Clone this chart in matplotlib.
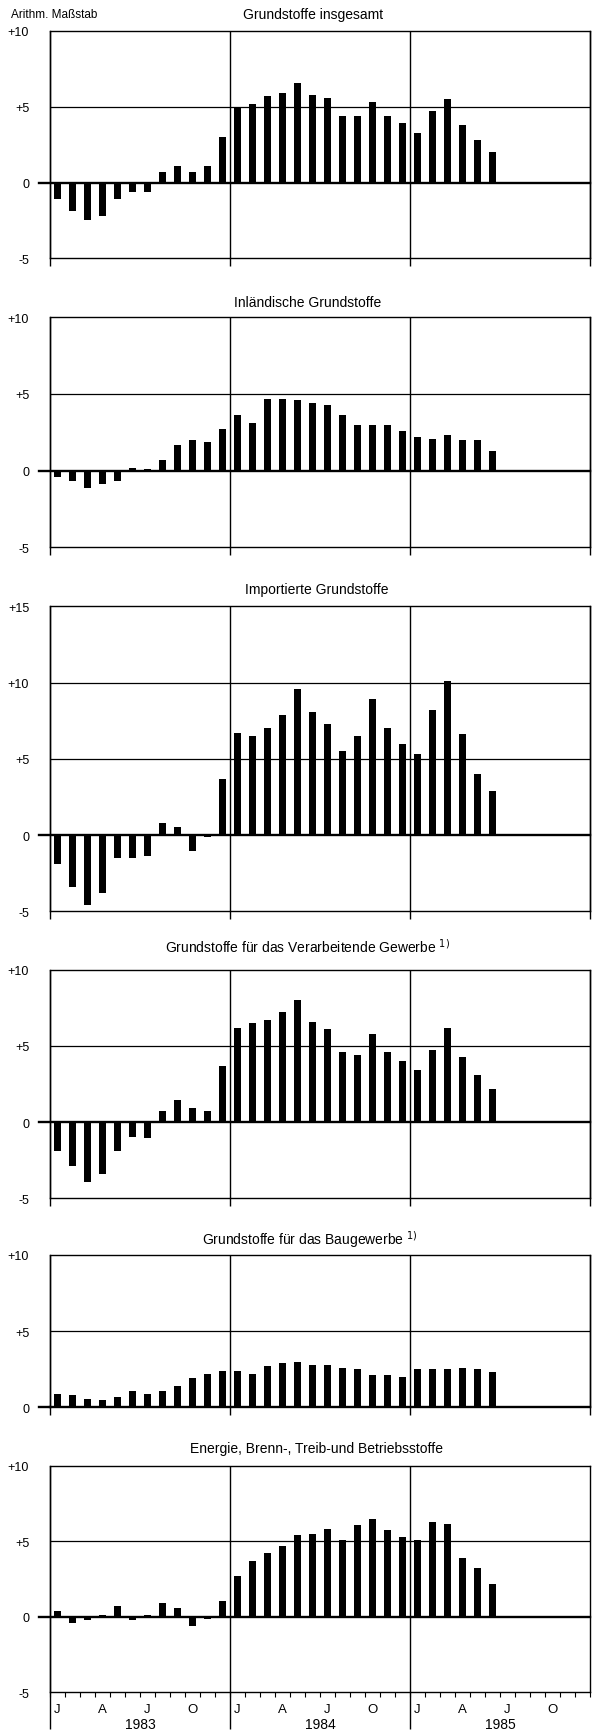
import matplotlib
matplotlib.use("Agg")
import matplotlib.pyplot as plt
from matplotlib import font_manager

names = {f.name for f in font_manager.fontManager.ttflist}
fam = [n for n in ["Liberation Sans Narrow", "Liberation Sans", "DejaVu Sans"] if n in names]
plt.rcParams["font.family"] = fam + ["DejaVu Sans"]

# ---------------- data ----------------
months_1983_1985 = list(range(30))  # Jan 1983 .. Jun 1985
month_labels = ["J", "A", "J", "O"]
month_label_pos = [0, 3, 6, 9]
years = ["1983", "1984", "1985"]

titles = [
    "Grundstoffe insgesamt",
    "Inländische Grundstoffe",
    "Importierte Grundstoffe",
    "Grundstoffe für das Verarbeitende Gewerbe",
    "Grundstoffe für das Baugewerbe",
    "Energie, Brenn-, Treib-und Betriebsstoffe",
]
footnotes = [False, False, False, True, True, False]

insgesamt = [-1.1, -1.9, -2.5, -2.2, -1.1, -0.6, -0.6, 0.7, 1.1, 0.7, 1.1, 3.0,
             4.9, 5.2, 5.7, 5.9, 6.6, 5.8, 5.6, 4.4, 4.4, 5.3, 4.4, 3.9,
             3.3, 4.7, 5.5, 3.8, 2.8, 2.0]
inlaendisch = [-0.4, -0.7, -1.1, -0.9, -0.7, 0.15, 0.1, 0.7, 1.7, 2.0, 1.9, 2.7,
               3.6, 3.1, 4.7, 4.7, 4.6, 4.4, 4.3, 3.6, 3.0, 3.0, 3.0, 2.6,
               2.2, 2.05, 2.3, 2.0, 2.0, 1.3]
importiert = [-1.9, -3.4, -4.6, -3.8, -1.5, -1.5, -1.4, 0.8, 0.55, -1.05, -0.1, 3.7,
              6.7, 6.5, 7.0, 7.9, 9.6, 8.1, 7.3, 5.5, 6.5, 8.9, 7.0, 6.0,
              5.3, 8.2, 10.1, 6.6, 4.0, 2.9]
verarbeitend = [-1.9, -2.9, -3.9, -3.4, -1.9, -1.0, -1.05, 0.7, 1.45, 0.95, 0.7, 3.7,
                6.2, 6.5, 6.7, 7.2, 8.0, 6.6, 6.1, 4.6, 4.4, 5.8, 4.6, 4.0,
                3.4, 4.7, 6.2, 4.3, 3.1, 2.2]
baugewerbe = [0.9, 0.8, 0.55, 0.45, 0.7, 1.1, 0.9, 1.1, 1.4, 1.9, 2.2, 2.4,
              2.4, 2.2, 2.7, 2.9, 3.0, 2.8, 2.8, 2.6, 2.5, 2.1, 2.1, 2.0,
              2.5, 2.5, 2.5, 2.6, 2.5, 2.3]
energie = [0.4, -0.4, -0.2, 0.1, 0.7, -0.2, 0.1, 0.9, 0.55, -0.6, -0.15, 1.05,
           2.7, 3.7, 4.2, 4.7, 5.4, 5.5, 5.8, 5.05, 6.05, 6.45, 5.75, 5.3,
           5.05, 6.3, 6.15, 3.9, 3.2, 2.2]
series = [insgesamt, inlaendisch, importiert, verarbeitend, baugewerbe, energie]

ylims = [(-5, 10), (-5, 10), (-5, 15), (-5, 10), (0, 10), (-5, 10)]
ytick_sets = [[-5, 0, 5, 10], [-5, 0, 5, 10], [-5, 0, 5, 10, 15],
              [-5, 0, 5, 10], [0, 5, 10], [-5, 0, 5, 10]]

# ---------------- layout (pixels) ----------------
W, H = 592, 1731
L, R = 50, 590
tops = [32, 318.3, 607.3, 970.7, 1256, 1466.7]
bottoms = [259.3, 548.3, 912.3, 1199.3, 1408.3, 1693.3]
title_y = [15, 303, 590, 946.7, 1240, 1449.3]
title_x = [313, 307.5, 316.5, 308, 310, 316.6]

fig = plt.figure(figsize=(W / 100, H / 100), dpi=100)

def fmt(v):
    if v > 0:
        return "+%d" % v
    return "%d" % v

for i in range(6):
    top, bot = tops[i], bottoms[i]
    ah = bot - top
    ax = fig.add_axes([L / W, 1 - bot / H, (R - L) / W, ah / H])
    ax.set_xlim(0, 36)
    ax.set_ylim(*ylims[i])
    x = [m + 0.5 for m in months_1983_1985]
    ax.bar(x, series[i], width=0.44, color="black", zorder=3)
    for s in ax.spines.values():
        s.set_linewidth(1.0)
    lo, hi = ylims[i]
    for g in ytick_sets[i]:
        if lo < g < hi and g != 0:
            ax.axhline(g, color="black", lw=0.9, zorder=1)
    if lo < 0:
        ax.axhline(0, xmin=-11 / (R - L), xmax=1, color="black", lw=1.7,
                   zorder=4, clip_on=False)
    else:
        ax.spines["bottom"].set_linewidth(1.7)
        ax.axhline(0, xmin=-11 / (R - L), xmax=0, color="black", lw=1.7,
                   clip_on=False)
    ext = (8 if i < 5 else (H - bot - 1)) / ah
    ax.vlines([0, 12, 24], -ext, 1, transform=ax.get_xaxis_transform(),
              colors="black", lw=1.0, clip_on=False, zorder=2)
    if i < 5:
        ax.vlines([36], -ext, 1, transform=ax.get_xaxis_transform(),
                  colors="black", lw=1.0, clip_on=False, zorder=2)
    ax.set_yticks(ytick_sets[i])
    ax.set_yticklabels([fmt(t) for t in ytick_sets[i]], fontsize=9)
    ax.tick_params(axis="y", length=0, pad=15)
    if i < 5:
        ax.set_xticks([])
    else:
        ax.set_xticks(range(37))
        ax.set_xticklabels([])
        ax.tick_params(axis="x", direction="out", length=3.8, width=0.8)
        for yr in range(3):
            for lab, pos in zip(month_labels, month_label_pos):
                ax.text(yr * 12 + pos + 0.5, -17 / ah, lab, fontsize=9.5,
                        ha="center", va="center",
                        transform=ax.get_xaxis_transform())
            ax.text(yr * 12 + 6, -32 / ah, years[yr], fontsize=10,
                    ha="center", va="center",
                    transform=ax.get_xaxis_transform())
    t = titles[i] + (r" $^{1)}$" if footnotes[i] else "")
    fig.text(title_x[i] / W, 1 - title_y[i] / H, t, ha="center", va="center",
             fontsize=10)

fig.text(11 / W, 1 - 15 / H, "Arithm. Maßstab", ha="left", va="center", fontsize=8.5)

fig.savefig("out.png", dpi=100)
